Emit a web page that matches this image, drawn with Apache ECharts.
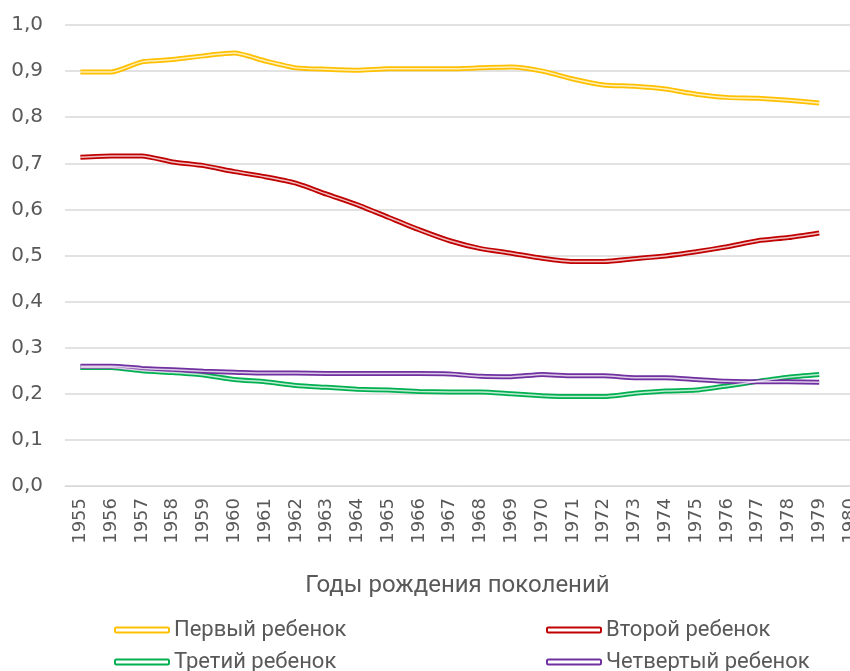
<!DOCTYPE html>
<html>
<head>
<meta charset="utf-8">
<script src="https://cdn.jsdelivr.net/npm/echarts@6/dist/echarts.min.js"></script>
<style>
  html, body { margin: 0; padding: 0; background: #fff; }
  #chart { width: 850px; height: 671px; }
</style>
</head>
<body>
<div id="chart"></div>
<script>
// годы (1980 только подпись, у края обрезана)
var years = [1955,1956,1957,1958,1959,1960,1961,1962,1963,1964,1965,1966,1967,
             1968,1969,1970,1971,1972,1973,1974,1975,1976,1977,1978,1979,1980];

var first = [0.898,0.898,0.920,0.925,0.933,0.939,0.922,0.907,0.904,0.902,0.905,0.905,0.905,
             0.907,0.909,0.900,0.883,0.870,0.867,0.861,0.850,0.843,0.841,0.837,0.831];
var second = [0.713,0.716,0.716,0.703,0.695,0.682,0.671,0.657,0.633,0.610,0.583,0.556,0.532,
              0.515,0.505,0.494,0.487,0.487,0.493,0.499,0.508,0.519,0.532,0.539,0.549];
var third = [0.257,0.257,0.250,0.246,0.241,0.231,0.226,0.218,0.214,0.210,0.208,0.205,0.204,
             0.204,0.200,0.196,0.194,0.194,0.201,0.206,0.208,0.217,0.227,0.236,0.242];
var fourth = [0.260,0.260,0.255,0.252,0.249,0.247,0.245,0.245,0.244,0.244,0.244,0.244,0.243,
              0.238,0.237,0.242,0.239,0.239,0.235,0.235,0.231,0.227,0.226,0.226,0.225];

var names = ['Первый ребенок','Второй ребенок','Третий ребенок','Четвертый ребенок'];
var colors = ['#FFC000','#C00000','#00B050','#7030A0'];
var values = [first, second, third, fourth];

var grey = '#595959';

function pairs(v) {
    return v.map(function (y, k) { return [years[k], y]; });
}

// двойная линия: толстая цветная + светлая тонкая сверху
var series = [];
values.forEach(function (v, i) {
    series.push({
        name: names[i], type: 'line', data: pairs(v), smooth: 0.2,
        symbol: 'none', z: 2,
        lineStyle: { color: colors[i], width: 5 },
        itemStyle: { color: colors[i] }
    });
});
values.forEach(function (v, i) {
    series.push({
        name: names[i] + '_inner', type: 'line', data: pairs(v), smooth: 0.2,
        symbol: 'none', z: 3, silent: true,
        lineStyle: { color: 'rgba(255,255,255,0.75)', width: 1.5 }
    });
});

// легенда: 2 колонки x 2 строки, каждая позиция отдельно
var legendPos = [[109, 614], [541, 614], [109, 646], [541, 646]];
var legends = names.map(function (n, i) {
    return {
        left: legendPos[i][0], top: legendPos[i][1],
        icon: 'roundRect', itemWidth: 54, itemHeight: 5, itemGap: 4,
        selectedMode: false,
        textStyle: { color: grey, fontSize: 22, fontFamily: 'Roboto', padding: [0, 0, 0, 0] },
        data: [{ name: n, itemStyle: { color: 'rgba(255,255,255,0.75)', borderColor: colors[i], borderWidth: 2 } }]
    };
});

var chart = echarts.init(document.getElementById('chart'));
chart.setOption({
    animation: false,
    backgroundColor: '#fff',
    grid: { left: 65, top: 25, right: 0, height: 461, containLabel: false, outerBoundsMode: 'none' },
    legend: legends,
    xAxis: {
        type: 'value', min: 1954.5, max: 1980,
        name: 'Годы рождения поколений', nameLocation: 'middle', nameGap: 88,
        nameTextStyle: { color: grey, fontSize: 24, fontFamily: 'Roboto', padding: [0, 0, 0, 0] },
        axisLine: { show: true, onZero: false, lineStyle: { color: '#d9d9d9' } },
        axisTick: { show: false },
        splitLine: { show: false },
        axisLabel: {
            customValues: years, showMinLabel: true, showMaxLabel: true,
            rotate: 90, margin: 12, color: grey, fontSize: 18, fontFamily: 'DejaVu Sans',
            formatter: function (v) { return String(v); }
        }
    },
    yAxis: {
        type: 'value', min: 0, max: 1, interval: 0.1,
        axisLine: { show: false }, axisTick: { show: false },
        splitLine: { lineStyle: { color: '#d9d9d9', width: 1.5 } },
        axisLabel: {
            margin: 22, color: grey, fontSize: 20, fontFamily: 'DejaVu Sans',
            formatter: function (v) { return v.toFixed(1).replace('.', ','); }
        }
    },
    series: series
});
</script>
</body>
</html>
